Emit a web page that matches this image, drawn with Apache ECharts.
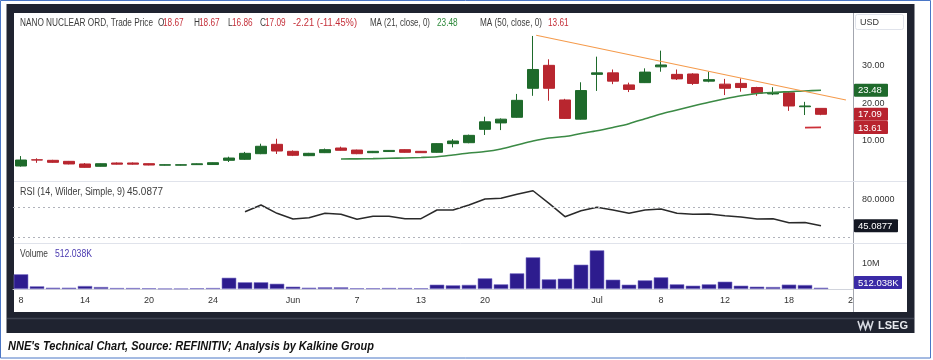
<!DOCTYPE html>
<html>
<head>
<meta charset="utf-8">
<title>NNE Technical Chart</title>
<script src="https://cdn.jsdelivr.net/npm/echarts@6.0.0/dist/echarts.min.js"></script>
<style>
html,body{margin:0;padding:0;background:#ffffff;overflow:hidden;}
#chart{width:933px;height:360px;}
</style>
</head>
<body>
<div id="chart"></div>
<script>
// ---------------- data ----------------
const dates = ['2024-05-08','2024-05-09','2024-05-10','2024-05-13','2024-05-14','2024-05-15','2024-05-16','2024-05-17','2024-05-20','2024-05-21','2024-05-22','2024-05-23','2024-05-24','2024-05-28','2024-05-29','2024-05-30','2024-05-31',
'2024-06-03','2024-06-04','2024-06-05','2024-06-06','2024-06-07','2024-06-10','2024-06-11','2024-06-12','2024-06-13','2024-06-14','2024-06-17','2024-06-18','2024-06-20','2024-06-21','2024-06-24','2024-06-25','2024-06-26','2024-06-27','2024-06-28',
'2024-07-01','2024-07-02','2024-07-03','2024-07-05','2024-07-08','2024-07-09','2024-07-10','2024-07-11','2024-07-12','2024-07-15','2024-07-16','2024-07-17','2024-07-18','2024-07-19','2024-07-22','2024-07-23','2024-07-24'];

const tickDates = ['2024-05-08','2024-05-14','2024-05-20','2024-05-24','2024-06-03','2024-06-07','2024-06-13','2024-06-20','2024-07-01','2024-07-08','2024-07-12','2024-07-18','2024-07-24'];
const tickTexts = ['8','14','20','24','Jun','7','13','20','Jul','8','12','18','24'];

const opens  = [3.36,5.00,4.87,4.60,3.90,3.28,4.16,4.16,3.98,3.58, 3.58,3.72,3.75,4.87,5.14,6.63,9.12,7.26,6.10,6.90, 8.14,7.60,6.90,7.20,7.70,7.26,7.00,9.30,9.55,13.10, 14.80,16.30,24.00,30.10,20.90,15.80,27.70,28.10,24.90,25.50, 29.70,27.70,27.80,25.90,25.10,25.30,24.20,22.50,22.80,19.10, 18.67];
const closes = [4.95,4.95,4.34,3.90,3.00,3.97,3.85,3.85,3.62,3.70, 3.70,3.95,4.24,5.48,6.73,8.60,7.34,6.20,6.73,7.70, 7.53,6.63,7.26,7.50,7.00,6.90,9.30,10.00,11.50,15.10, 15.80,20.80,29.00,24.00,16.00,23.40,28.10,25.90,23.70,28.30, 30.20,26.50,25.30,26.30,24.00,24.20,22.70,22.80,19.30,19.30, 17.09];
const lows   = [3.20,4.20,4.20,3.80,2.90,3.20,3.75,3.70,3.55,3.50, 3.50,3.65,3.70,4.42,5.00,6.50,6.55,6.00,6.00,6.80, 7.40,6.50,6.80,7.10,6.90,6.85,6.90,8.30,9.40,11.60, 12.90,16.20,22.00,20.70,15.90,15.70,23.30,25.10,23.00,25.40, 28.40,26.20,24.90,25.60,22.20,23.10,22.00,22.20,18.00,16.90, 16.86];
const highs  = [6.00,5.40,5.00,4.70,4.15,4.05,4.30,4.30,4.05,3.78, 3.80,4.05,4.30,5.83,7.10,9.28,10.60,7.50,6.85,8.00, 8.50,7.70,7.35,7.60,7.80,7.35,9.40,10.50,11.70,16.45, 16.00,22.50,37.90,31.70,21.20,25.60,32.40,29.00,25.50,29.30, 34.00,29.00,28.00,28.40,26.50,26.65,24.40,24.30,23.00,20.40, 18.67];

const ma21Start = 20;
const ma21 = [5.22,5.26,5.31,5.40,5.50,5.62,5.82,6.30,6.80,7.20, 7.90,8.95,10.00,10.80,11.20,12.00,12.70,13.60,14.60,15.90, 17.20,18.25,19.30,20.30,21.20,22.00,22.60,22.90,23.10,23.30, 23.48];
const ma50Start = 49;
const ma50 = [13.55,13.61];

const rsiStart = 14;
const rsi = [63.7,72.7,61.6,54.0,55.7,61.6,60.3,53.6,57.6,57.6, 54.4,54.4,66.0,66.0,72.7,80.7,81.6,86.9,91.7,74.9, 57.1,65.1,69.6,66.0,61.6,66.0,67.3,61.6,60.3,60.7, 58.4,56.7,54.0,54.4,49.0,49.3,45.0877];

// volume in millions of shares
const volumeM = [5.9,1.07,0.53,0.53,1.2,0.8,0.4,0.4,0.3,0.15, 0.15,0.3,0.4,4.5,2.7,2.7,2.1,0.93,0.53,0.67, 0.67,0.3,0.3,0.4,0.4,0.3,1.73,1.47,1.65,4.27, 1.87,6.27,12.67,3.87,4.13,9.73,15.47,3.73,1.73,3.47, 4.67,1.87,1.33,1.87,2.93,1.33,0.93,0.8,1.75,1.6, 0.512038];

// descending trendline (x in trading-day index, y in price)
const trendIdx = [32.2, 51.56];
const trendPrice = [38.1, 20.9];

const priceTicks = [10, 20, 30];
const rsiTicks = [80];
const rsiLevels = [70, 30];
const volTicks = [10];

// ---------------- styling ----------------
const FONT = '"Liberation Sans", Arial, sans-serif';
const UP = '#1e6a2b', DOWN = '#b8262f';
const N = dates.length;

function pad(arr, start) {
  return dates.map(function (d, i) { return (i >= start && i - start < arr.length) ? arr[i - start] : null; });
}
function isTick(list, v) { return list.some(function (t) { return Math.abs(t - v) < 1e-6; }); }

const candleData = opens.map(function (o, i) { return [o, closes[i], lows[i], highs[i]]; });

const option = {
  animation: false,
  backgroundColor: '#ffffff',
  tooltip: { show: false },
  grid: [
    { left: 13, top: 13, width: 848, height: 203.3, outerBoundsMode: 'none', containLabel: false },
    { left: 13, top: 181, width: 848, height: 63.5, outerBoundsMode: 'none', containLabel: false },
    { left: 13, top: 243, width: 848, height: 46, outerBoundsMode: 'none', containLabel: false }
  ],
  xAxis: [
    { type: 'category', gridIndex: 0, data: dates, show: false },
    { type: 'value', gridIndex: 0, min: -0.5, max: N - 0.5, show: false },
    { type: 'category', gridIndex: 1, data: dates, show: false },
    { type: 'category', gridIndex: 2, data: dates, z: 0,
      axisLine: { show: true, lineStyle: { color: '#d1d4dc', width: 1 } },
      axisTick: { show: false }, splitLine: { show: false },
      axisLabel: {
        interval: function (i, v) { return tickDates.indexOf(v) >= 0; },
        formatter: function (v) { const k = tickDates.indexOf(v); return k >= 0 ? tickTexts[k] : ''; },
        color: '#333333', fontSize: 9, fontFamily: FONT, margin: 7
      }
    }
  ],
  yAxis: [
    { type: 'value', gridIndex: 0, position: 'right', min: -10, max: 44, interval: 10, z: 10,
      axisLine: { show: false }, axisTick: { show: false }, splitLine: { show: false },
      axisLabel: { margin: 1, fontSize: 9, color: '#333333', fontFamily: FONT,
        formatter: function (v) { return isTick(priceTicks, v) ? v.toFixed(2) : ''; } } },
    { type: 'value', gridIndex: 1, position: 'right', min: 20, max: 104.67, interval: 10, z: 10,
      axisLine: { show: false }, axisTick: { show: false }, splitLine: { show: false },
      axisLabel: { margin: 1, fontSize: 9, color: '#333333', fontFamily: FONT,
        formatter: function (v) { return isTick(rsiTicks, v) ? v.toFixed(4) : ''; } } },
    { type: 'value', gridIndex: 2, position: 'right', min: 0, max: 18.4, interval: 10, z: 10,
      axisLine: { show: false }, axisTick: { show: false }, splitLine: { show: false },
      axisLabel: { margin: 1, fontSize: 9, color: '#333333', fontFamily: FONT,
        formatter: function (v) { return isTick(volTicks, v) ? Math.round(v) + 'M' : ''; } } }
  ],
  series: [
    { type: 'candlestick', xAxisIndex: 0, yAxisIndex: 0, data: candleData, barWidth: 12,
      itemStyle: { color: UP, color0: DOWN, borderColor: UP, borderColor0: DOWN, borderWidth: 1 },
      emphasis: { disabled: true } },
    { type: 'line', xAxisIndex: 0, yAxisIndex: 0, data: pad(ma21, ma21Start), showSymbol: false, smooth: 0.3,
      lineStyle: { color: '#3b8a45', width: 1.6 }, emphasis: { disabled: true } },
    { type: 'line', xAxisIndex: 0, yAxisIndex: 0, data: pad(ma50, ma50Start), showSymbol: false,
      lineStyle: { color: '#cc3038', width: 1.6 }, emphasis: { disabled: true } },
    { type: 'line', xAxisIndex: 1, yAxisIndex: 0, data: trendIdx.map(function (x, i) { return [x, trendPrice[i]]; }),
      showSymbol: false, lineStyle: { color: '#f59b4c', width: 1.2 }, emphasis: { disabled: true } },
    { type: 'line', xAxisIndex: 2, yAxisIndex: 1, data: pad(rsi, rsiStart), showSymbol: false,
      lineStyle: { color: '#2a2a2a', width: 1.5 }, emphasis: { disabled: true },
      markLine: { silent: true, symbol: ['none', 'none'], label: { show: false },
        lineStyle: { color: '#b0b3bb', type: [2, 3], width: 1 },
        data: rsiLevels.map(function (v) { return { yAxis: v }; }) } },
    { type: 'bar', xAxisIndex: 3, yAxisIndex: 2, data: volumeM, barCategoryGap: '9%',
      itemStyle: { color: '#2d1c8e', borderColor: '#7d74c7', borderWidth: 0.6 }, emphasis: { disabled: true } }
  ]
};

const chart = echarts.init(document.getElementById('chart'), null, { renderer: 'canvas' });
chart.setOption(option);

// ---------------- overlay texts & frame ----------------
const mctx = document.createElement('canvas').getContext('2d');
function fontStr(o) { return (o.italic ? 'italic ' : '') + (o.bold ? 'bold ' : '') + (o.size || 10) + 'px ' + FONT; }
function measure(str, o) { mctx.font = fontStr(o); return mctx.measureText(str).width; }
function textEl(str, x, y, color, o) {
  o = o || {};
  const font = fontStr(o);
  let sx = o.scale || 1;
  if (o.w) { const m = measure(str, o); if (m > 0) sx = o.w / m; }
  return { type: 'text', x: x, y: y, scaleX: sx, z: o.z || 20, silent: true,
    style: { text: str, x: 0, y: 0, fill: color, font: font, align: 'left', verticalAlign: 'middle',
      textAlign: 'left', textVerticalAlign: 'middle' } };
}
function rectEl(x, y, w, h, fill, stroke, z, r) {
  return { type: 'rect', silent: true, z: z, shape: { x: x, y: y, width: w, height: h, r: r || 0 },
    style: { fill: fill, stroke: stroke || 'none', lineWidth: 1 } };
}
function lineEl(x1, y1, x2, y2, color, w, z) {
  return { type: 'line', silent: true, z: z, shape: { x1: x1, y1: y1, x2: x2, y2: y2 },
    style: { stroke: color, lineWidth: w } };
}

const GREY = '#3d3d3d', RED = '#c5303a', GREEN = '#2f8a3c', PURPLE = '#4b3bb0';
const head = 'NANO NUCLEAR ORD, Trade Price';
const s1 = 133 / (measure(head, { size: 10 }) || 133);
const last = opens.length - 1;
const prevClose = closes[last - 1];
const chg = closes[last] - prevClose;
const chgTxt = chg.toFixed(2) + ' (' + (chg / prevClose * 100).toFixed(2) + '%)';

const els = [];
// outer frame
els.push(rectEl(0.5, 0.5, 930, 357.5, 'none', '#4a76c6', -6));
els.push(rectEl(6.5, 4, 908, 329, '#1f2330', null, -5));
els.push(rectEl(14, 13, 893, 299, '#ffffff', null, -4));
els.push(lineEl(7, 318.5, 914, 318.5, '#3d4250', 1.5, -3));
// right price panel
els.push(rectEl(853, 13, 54, 299, '#ffffff', null, 5));
els.push(lineEl(853.5, 13, 853.5, 312, '#a3a6af', 1, 6));
els.push(lineEl(14, 181.5, 907, 181.5, '#e0e3eb', 1, 6));
els.push(lineEl(14, 243.5, 907, 243.5, '#e0e3eb', 1, 6));
els.push(rectEl(855.5, 14.5, 48, 15, '#ffffff', '#e0e3eb', 7, 2));
els.push(textEl('USD', 860, 22.5, '#333333', { size: 9, z: 8 }));

// header legend
els.push(textEl(head, 20, 23, GREY, { scale: s1 }));
const hdr = [
  ['O', 158, GREY], [opens[last].toFixed(2), 163, RED],
  ['H', 194, GREY], [highs[last].toFixed(2), 199, RED],
  ['L', 228, GREY], [lows[last].toFixed(2), 232, RED],
  ['C', 260, GREY], [closes[last].toFixed(2), 265, RED]
];
hdr.forEach(function (h) { els.push(textEl(h[0], h[1], 23, h[2], { scale: s1 })); });
els.push(textEl(chgTxt, 293, 23, RED, { w: 64 }));
els.push(textEl('MA (21, close, 0)', 370, 23, GREY, { w: 60 }));
els.push(textEl(ma21[ma21.length - 1].toFixed(2), 437, 23, GREEN, { scale: s1 }));
els.push(textEl('MA (50, close, 0)', 480, 23, GREY, { w: 62 }));
els.push(textEl(ma50[ma50.length - 1].toFixed(2), 548, 23, RED, { scale: s1 }));

// pane titles
els.push(textEl('RSI (14, Wilder, Simple, 9)', 20, 192.5, GREY, { w: 105 }));
els.push(textEl(rsi[rsi.length - 1].toFixed(4), 127, 192.5, GREY, { w: 36 }));
const volLast = volumeM[volumeM.length - 1];
const volTxt = (volLast * 1000).toFixed(3) + 'K';
els.push(textEl('Volume', 20, 254.5, GREY, { w: 28 }));
els.push(textEl(volTxt, 55, 254.5, PURPLE, { w: 37 }));

// last value boxes positioned through the axes
function yPix(axis, v) { return chart.convertToPixel({ yAxisIndex: axis }, v); }
function valueBox(axis, v, txt, bg, w, clampMax) {
  let yc = yPix(axis, v);
  if (clampMax != null) yc = Math.min(yc, clampMax);
  els.push(rectEl(854, yc - 6.5, w, 13, bg, null, 15, 1));
  els.push(textEl(txt, 858, yc + 0.5, '#ffffff', { size: 9.5, z: 16 }));
}
valueBox(0, ma21[ma21.length - 1], ma21[ma21.length - 1].toFixed(2), '#1f6a2c', 34);
valueBox(0, closes[last], closes[last].toFixed(2), '#b8232f', 34);
valueBox(0, ma50[ma50.length - 1], ma50[ma50.length - 1].toFixed(2), '#b8232f', 34);
valueBox(1, rsi[rsi.length - 1], rsi[rsi.length - 1].toFixed(4), '#131722', 44);
valueBox(2, volLast, volTxt, '#3a2aa6', 48, 282.5);

// LSEG mark
els.push({ type: 'polyline', silent: true, z: 3, shape: { points: [[858, 321], [860.5, 329], [863, 322], [865.5, 329], [868, 322], [870.5, 329], [873, 321]] },
  style: { stroke: '#d4d7df', lineWidth: 1.6, fill: 'none' } });
els.push(textEl('LSEG', 878, 325.5, '#e8eaef', { size: 11, bold: true, w: 30, z: 3 }));

// caption
els.push(textEl("NNE's Technical Chart, Source: REFINITIV; Analysis by Kalkine Group", 8, 346, '#111111',
  { size: 13, bold: true, italic: true, w: 366, z: 3 }));

chart.setOption({ graphic: { elements: els } });
</script>
</body>
</html>
